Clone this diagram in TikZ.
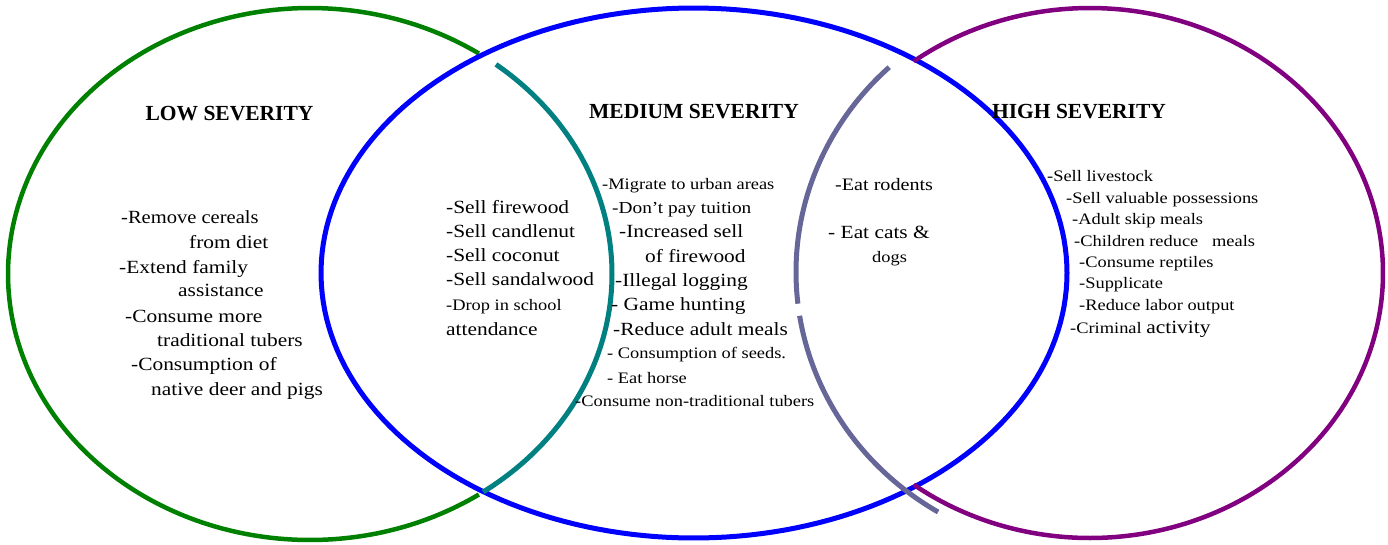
\documentclass[tikz,border=0pt]{standalone}
\usepackage{fontspec}
\setmainfont{Liberation Serif}
\newfontfamily\bodyfont{Liberation Serif}[FakeStretch=1.15]
\definecolor{cgreen}{RGB}{0,128,0}
\definecolor{cblue}{RGB}{0,0,255}
\definecolor{cpurple}{RGB}{128,0,128}
\definecolor{cteal}{RGB}{0,128,128}
\definecolor{cslate}{RGB}{102,102,153}
\tikzset{
  txt/.style={anchor=base west, inner sep=0pt, font=\bodyfont\fontsize{18.6}{22}\selectfont},
  sm/.style={anchor=base west, inner sep=0pt, font=\bodyfont\fontsize{16}{20}\selectfont},
  ttl/.style={anchor=base, inner sep=0pt, font=\fontsize{21.5}{25}\selectfont\bfseries},
  ring/.style={line width=4.5pt, samples=200},
}
\begin{document}
\begin{tikzpicture}[x=1pt,y=-1pt]
\useasboundingbox (0,0) rectangle (1388,544);
% green (low) ellipse, visible part
\draw[ring, cgreen] plot[domain=56:304] ({310+302*cos(\x)},{274-266*sin(\x)});
% blue (medium) ellipse
\draw[ring, cblue, line width=5pt] plot[domain=0:360] ({694+373*cos(\x)},{273-265*sin(\x)});
% purple (high) ellipse, visible part
\draw[ring, cpurple] plot[domain=-127:127] ({1090+293*cos(\x)},{273-265*sin(\x)});
% teal arc
\draw[ring, cteal, line width=5pt] plot[domain=-55:52] ({310+302*cos(\x)},{274-266*sin(\x)});
% slate arc (with gap)
\draw[ring, cslate, line width=5pt] plot[domain=133:186.5] ({1089+293*cos(\x)},{272-280*sin(\x)});
\draw[ring, cslate, line width=5pt] plot[domain=189:239] ({1089+293*cos(\x)},{272-280*sin(\x)});

% titles
\node[ttl] (tlow) at (229.5,120.5) {LOW SEVERITY};
\node[ttl] (tmed) at (694,118.5) {MEDIUM SEVERITY};
\node[ttl] (thigh) at (1079,118.5) {HIGH SEVERITY};

% low
\node[txt] (l1) at (121,223) {\scalebox{0.96}[1]{-Remove cereals}};
\node[txt] (l2) at (189,248) {from diet};
\node[txt] (l3) at (119,273) {-Extend family};
\node[txt] (l4) at (178,296) {assistance};
\node[txt] (l5) at (125,322) {-Consume more};
\node[txt] (l6) at (157,346) {traditional tubers};
\node[txt] (l7) at (131,370) {-Consumption of};
\node[txt] (l8) at (151,395) {native deer and pigs};

% low-medium
\node[txt] (lm1) at (446,213) {-Sell firewood};
\node[txt] (lm2) at (446,237) {-Sell candlenut};
\node[txt] (lm3) at (446,261) {-Sell coconut};
\node[txt] (lm4) at (446,285) {-Sell sandalwood};
\node[sm] (lm5) at (446,310) {-Drop in school};
\node[txt] (lm6) at (446,335) {attendance};

% medium
\node[sm] (m1) at (602,189) {-Migrate to urban areas};
\node[sm, font=\bodyfont\fontsize{16.8}{20}\selectfont] (m2) at (612,213) {-Don’t pay tuition};
\node[txt] (m3) at (619,237) {-Increased sell};
\node[txt] (m4) at (645,262) {of firewood};
\node[txt] (m5) at (615,286) {-Illegal logging};
\node[txt] (m6) at (611,310) {- Game hunting};
\node[txt] (m7) at (613,335) {-Reduce adult meals};
\node[sm] (m8) at (607,358) {- Consumption of seeds.};
\node[sm] (m9) at (607,383) {- Eat horse};
\node[sm] (m10) at (575,406) {-Consume non-traditional tubers};

% medium-high
\node[txt, font=\bodyfont\fontsize{17.5}{20}\selectfont] (mh1) at (835,190) {-Eat rodents};
\node[txt] (mh2) at (828,238) {- Eat cats \&};
\node[sm] (mh3) at (872,262) {dogs};

% high
\node[sm] (h1) at (1047,181) {-Sell livestock};
\node[sm] (h2) at (1066,203) {-Sell valuable possessions};
\node[sm] (h3) at (1072,224) {-Adult skip meals};
\node[sm] (h4) at (1074,246) {-Children reduce \ \ meals};
\node[sm] (h5) at (1079,267) {-Consume reptiles};
\node[sm] (h6) at (1079,288) {-Supplicate};
\node[sm] (h7) at (1079,310) {-Reduce labor output};
\node[sm] (h8) at (1070,333) {-Criminal {\fontsize{18.6}{22}\selectfont activity}};
\end{tikzpicture}
\end{document}
